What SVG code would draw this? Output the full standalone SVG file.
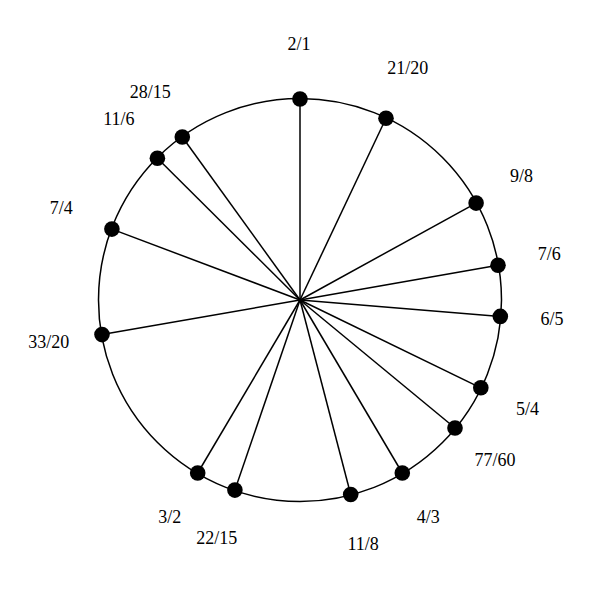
<svg xmlns="http://www.w3.org/2000/svg" width="600" height="600" viewBox="0 0 600 600">
<style>
.ring{fill:none;stroke:#000;stroke-width:1.5}
.spoke{stroke:#000;stroke-width:1.5}
.dot{fill:#000}
.lbl{font-family:"Liberation Serif","Times New Roman",serif;font-size:18px;fill:#000;text-anchor:middle}
</style>
<rect width="600" height="600" fill="#fff"/>
<circle class="ring" cx="300" cy="300" r="201.5"/>
<g id="connectors">
<line class="spoke" x1="300" y1="300" x2="300" y2="99"/>
<line class="spoke" x1="300" y1="300" x2="386" y2="118.3"/>
<line class="spoke" x1="300" y1="300" x2="476.1" y2="203.1"/>
<line class="spoke" x1="300" y1="300" x2="498" y2="265.3"/>
<line class="spoke" x1="300" y1="300" x2="500.3" y2="316.4"/>
<line class="spoke" x1="300" y1="300" x2="480.8" y2="387.8"/>
<line class="spoke" x1="300" y1="300" x2="455" y2="428"/>
<line class="spoke" x1="300" y1="300" x2="402.3" y2="473"/>
<line class="spoke" x1="300" y1="300" x2="350.7" y2="494.5"/>
<line class="spoke" x1="300" y1="300" x2="234.9" y2="490.1"/>
<line class="spoke" x1="300" y1="300" x2="197.7" y2="473"/>
<line class="spoke" x1="300" y1="300" x2="102" y2="334.6"/>
<line class="spoke" x1="300" y1="300" x2="111.9" y2="229.1"/>
<line class="spoke" x1="300" y1="300" x2="157.4" y2="158.3"/>
<line class="spoke" x1="300" y1="300" x2="182.3" y2="137"/>
</g>
<g id="n-2-1"><circle class="dot" cx="300" cy="99" r="7.8"/><text class="lbl" x="299" y="50">2/1</text></g>
<g id="n-21-20"><circle class="dot" cx="386" cy="118.3" r="7.8"/><text class="lbl" x="407.7" y="74.4">21/20</text></g>
<g id="n-9-8"><circle class="dot" cx="476.1" cy="203.1" r="7.8"/><text class="lbl" x="521.6" y="181.5">9/8</text></g>
<g id="n-7-6"><circle class="dot" cx="498" cy="265.3" r="7.8"/><text class="lbl" x="549.2" y="260.2">7/6</text></g>
<g id="n-6-5"><circle class="dot" cx="500.3" cy="316.4" r="7.8"/><text class="lbl" x="552.1" y="324.8">6/5</text></g>
<g id="n-5-4"><circle class="dot" cx="480.8" cy="387.8" r="7.8"/><text class="lbl" x="527.5" y="414.9">5/4</text></g>
<g id="n-77-60"><circle class="dot" cx="455" cy="428" r="7.8"/><text class="lbl" x="494.9" y="465.7">77/60</text></g>
<g id="n-4-3"><circle class="dot" cx="402.3" cy="473" r="7.8"/><text class="lbl" x="428.3" y="522.6">4/3</text></g>
<g id="n-11-8"><circle class="dot" cx="350.7" cy="494.5" r="7.8"/><text class="lbl" x="363.1" y="549.8">11/8</text></g>
<g id="n-22-15"><circle class="dot" cx="234.9" cy="490.1" r="7.8"/><text class="lbl" x="216.7" y="544.3">22/15</text></g>
<g id="n-3-2"><circle class="dot" cx="197.7" cy="473" r="7.8"/><text class="lbl" x="169.7" y="522.6">3/2</text></g>
<g id="n-33-20"><circle class="dot" cx="102" cy="334.6" r="7.8"/><text class="lbl" x="48.8" y="347.7">33/20</text></g>
<g id="n-7-4"><circle class="dot" cx="111.9" cy="229.1" r="7.8"/><text class="lbl" x="61.3" y="214.4">7/4</text></g>
<g id="n-11-6"><circle class="dot" cx="157.4" cy="158.3" r="7.8"/><text class="lbl" x="118.8" y="125">11/6</text></g>
<g id="n-28-15"><circle class="dot" cx="182.3" cy="137" r="7.8"/><text class="lbl" x="150.3" y="98.1">28/15</text></g>
</svg>
